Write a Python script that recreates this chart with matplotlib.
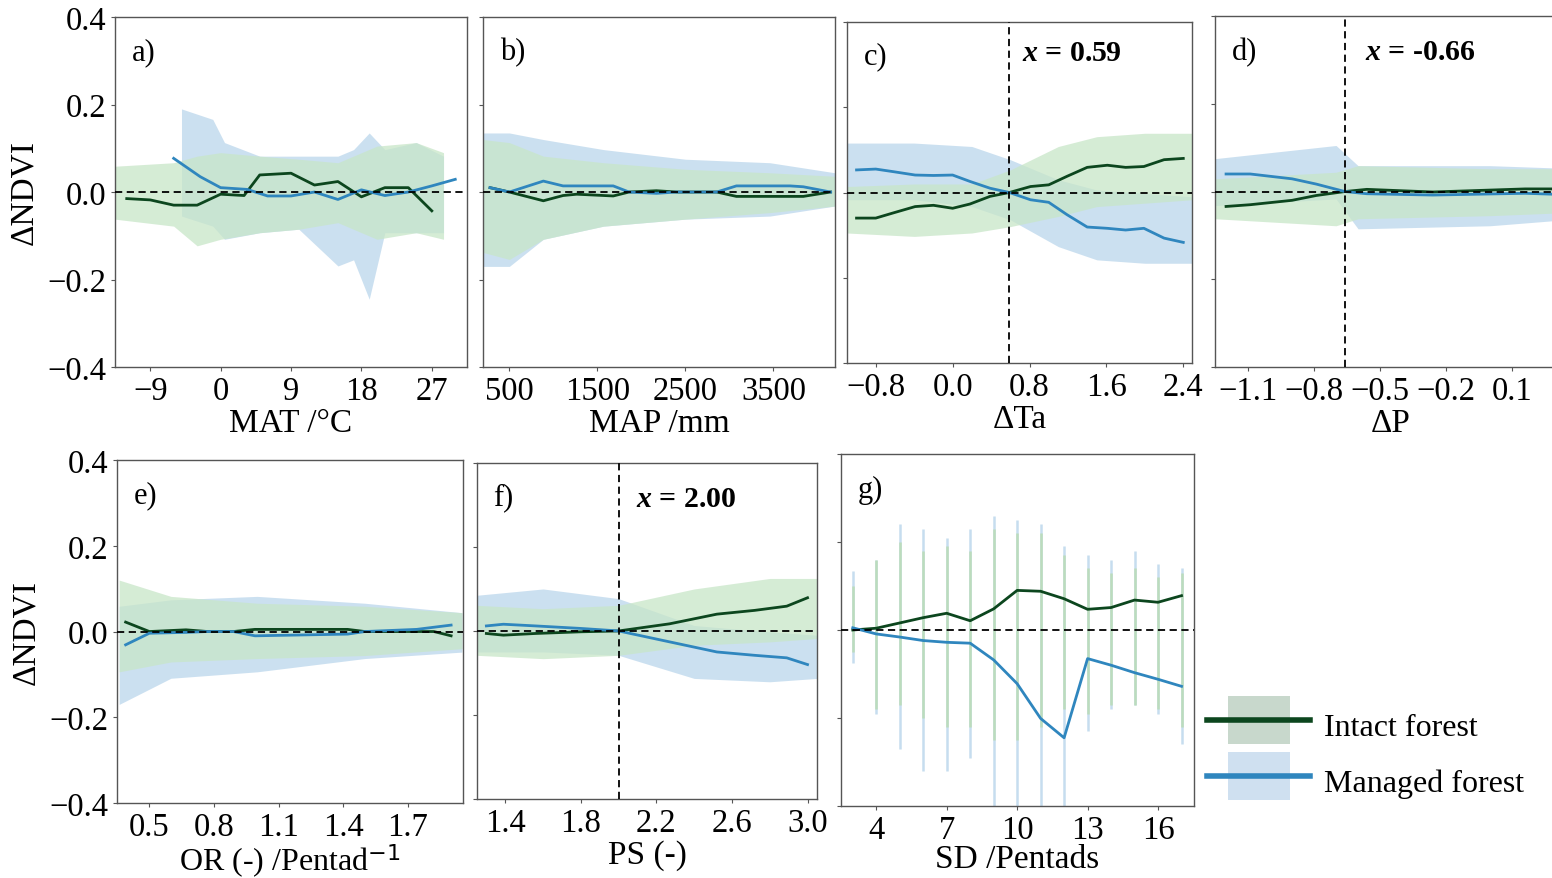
import numpy as np
import matplotlib.pyplot as plt
from matplotlib.lines import Line2D
from matplotlib.legend_handler import HandlerTuple

plt.rcParams['font.family'] = ['Liberation Serif', 'DejaVu Serif']
plt.rcParams['mathtext.fontset'] = 'custom'
plt.rcParams['mathtext.rm'] = 'DejaVu Sans'
plt.rcParams['mathtext.it'] = 'Liberation Serif:italic:bold'

# ---- a) MAT
a_int_x = [-12, -9, -6, -3, 0, 3, 5, 9, 12, 15, 18, 21, 24, 27]
a_int_y = [-0.015, -0.018, -0.030, -0.030, -0.005, -0.008, 0.039, 0.043, 0.016, 0.024, -0.011, 0.010, 0.010, -0.043]
a_man_x = [-6, -2.6, 0, 3.4, 6, 9, 12, 15, 18, 21, 24, 27, 30]
a_man_y = [0.077, 0.035, 0.010, 0.006, -0.009, -0.009, 0.0, -0.017, 0.005, -0.008, 0.0, 0.014, 0.029]
a_bx_int = [-13.5, -6, -3, 0, 5, 10, 15, 20, 25, 28.5]
a_int_hi = [0.059, 0.067, 0.082, 0.090, 0.082, 0.075, 0.067, 0.105, 0.113, 0.090]
a_int_lo = [-0.062, -0.078, -0.123, -0.108, -0.093, -0.085, -0.070, -0.108, -0.093, -0.108]
a_bx_man = [-5, -1, 0.5, 5, 10, 15, 17, 19, 21, 25, 28.5]
a_man_hi = [0.190, 0.166, 0.113, 0.082, 0.082, 0.082, 0.097, 0.135, 0.097, 0.113, 0.082]
a_man_lo = [-0.055, -0.078, -0.108, -0.093, -0.085, -0.169, -0.155, -0.245, -0.093, -0.093, -0.093]

# ---- b) MAP
b_x = [280, 500, 886, 1110, 1265, 1680, 1860, 2170, 2400, 2856, 3080, 3690, 3840, 4150]
b_int_y = [0.010, 0.0, -0.020, -0.008, -0.005, -0.009, 0.0, 0.003, 0.0, 0.0, -0.010, -0.010, -0.010, 0.0]
b_man_y = [0.010, 0.0, 0.025, 0.014, 0.014, 0.014, 0.0, -0.003, 0.0, 0.0, 0.014, 0.014, 0.012, 0.0]
b_bx = [200, 500, 886, 1570, 2500, 3460, 4200]
b_int_hi = [0.120, 0.113, 0.082, 0.067, 0.052, 0.044, 0.036]
b_int_lo = [-0.138, -0.154, -0.108, -0.078, -0.062, -0.047, -0.032]
b_man_hi = [0.135, 0.135, 0.120, 0.097, 0.075, 0.067, 0.044]
b_man_lo = [-0.170, -0.170, -0.108, -0.078, -0.062, -0.055, -0.032]

# ---- c) dTa
c_x = [-1.0, -0.8, -0.62, -0.39, -0.2, 0.0, 0.18, 0.39, 0.59, 0.81, 1.0, 1.19, 1.4, 1.61, 1.8, 1.99, 2.2, 2.4]
c_int_y = [-0.060, -0.060, -0.048, -0.033, -0.030, -0.037, -0.027, -0.009, 0.0, 0.014, 0.018, 0.038, 0.059, 0.064, 0.059, 0.061, 0.077, 0.080]
c_man_y = [0.053, 0.055, 0.049, 0.041, 0.040, 0.041, 0.026, 0.010, 0.0, -0.017, -0.023, -0.052, -0.081, -0.084, -0.088, -0.084, -0.107, -0.117]
c_bx = [-1.1, -0.4, 0.2, 0.6, 1.1, 1.5, 2.0, 2.49]
c_int_hi = [0.014, 0.020, 0.020, 0.053, 0.108, 0.131, 0.139, 0.139]
c_int_lo = [-0.095, -0.103, -0.095, -0.080, -0.056, -0.033, -0.025, -0.017]
c_man_hi = [0.116, 0.116, 0.108, 0.077, 0.030, 0.006, -0.002, -0.010]
c_man_lo = [-0.017, -0.017, -0.033, -0.064, -0.127, -0.158, -0.166, -0.166]
c_thr = 0.59

# ---- d) dP
d_x = [-1.2, -1.09, -0.9, -0.79, -0.66, -0.56, -0.26, 0.16, 0.4]
d_int_y = [-0.034, -0.030, -0.020, -0.009, 0.0, 0.005, -0.001, 0.006, 0.006]
d_man_y = [0.040, 0.040, 0.029, 0.017, 0.0, -0.005, -0.008, -0.004, -0.008]
d_bx = [-1.25, -0.7, -0.6, 0.0, 0.4]
d_int_hi = [0.029, 0.044, 0.059, 0.052, 0.052]
d_int_lo = [-0.062, -0.078, -0.062, -0.055, -0.047]
d_man_hi = [0.075, 0.105, 0.059, 0.059, 0.052]
d_man_lo = [-0.032, -0.017, -0.085, -0.078, -0.062]
d_thr = -0.66

# ---- e) OR
e_x = [0.39, 0.50, 0.67, 0.77, 0.89, 0.99, 1.42, 1.50, 1.74, 1.82, 1.90]
e_int_y = [0.022, 0.0, 0.004, 0.0, 0.0, 0.005, 0.005, 0.0, 0.0, 0.0, -0.010]
e_man_y = [-0.031, -0.004, -0.002, 0.0, 0.0, -0.010, -0.006, 0.0, 0.005, 0.010, 0.015]
e_bx = [0.36, 0.6, 1.0, 1.5, 1.95]
e_int_hi = [0.120, 0.082, 0.066, 0.059, 0.044]
e_int_lo = [-0.094, -0.071, -0.063, -0.056, -0.040]
e_man_hi = [0.059, 0.074, 0.082, 0.066, 0.044]
e_man_lo = [-0.170, -0.109, -0.094, -0.063, -0.048]

# ---- f) PS
f_x = [1.30, 1.39, 1.56, 1.80, 2.00, 2.27, 2.52, 2.72, 2.89, 3.00]
f_int_y = [-0.006, -0.010, -0.006, -0.002, 0.0, 0.017, 0.040, 0.049, 0.059, 0.079]
f_man_y = [0.012, 0.016, 0.012, 0.006, 0.0, -0.026, -0.050, -0.058, -0.064, -0.080]
f_bx = [1.25, 1.6, 2.0, 2.4, 2.8, 3.05]
f_int_hi = [0.061, 0.053, 0.061, 0.100, 0.125, 0.125]
f_int_lo = [-0.058, -0.066, -0.058, -0.034, -0.026, -0.018]
f_man_hi = [0.085, 0.100, 0.077, 0.013, -0.002, -0.010]
f_man_lo = [-0.050, -0.050, -0.058, -0.113, -0.121, -0.113]
f_thr = 2.00

# ---- g) SD
g_x = [3, 4, 5, 6, 7, 8, 9, 10, 11, 12, 13, 14, 15, 16, 17]
g_int_y = [0.0, 0.004, 0.016, 0.028, 0.038, 0.021, 0.048, 0.090, 0.088, 0.071, 0.047, 0.051, 0.068, 0.063, 0.078]
g_man_y = [0.005, -0.009, -0.016, -0.024, -0.028, -0.030, -0.068, -0.122, -0.201, -0.245, -0.065, -0.080, -0.097, -0.112, -0.128]
g_int_top = [0.100, 0.160, 0.200, 0.180, 0.190, 0.180, 0.230, 0.220, 0.220, 0.170, 0.140, 0.130, 0.140, 0.120, 0.130]
g_int_bot = [-0.050, -0.180, -0.170, -0.200, -0.220, -0.220, -0.250, -0.250, -0.220, -0.180, -0.190, -0.170, -0.170, -0.180, -0.220]
g_man_top = [0.135, 0.160, 0.240, 0.230, 0.210, 0.230, 0.260, 0.250, 0.240, 0.190, 0.170, 0.160, 0.180, 0.150, 0.140]
g_man_bot = [-0.076, -0.190, -0.270, -0.320, -0.320, -0.290, -0.400, -0.400, -0.400, -0.400, -0.230, -0.180, -0.170, -0.190, -0.260]

green_line = '#0c461e'
blue_line = '#2f86be'
green_fill = '#c8e6c8'
blue_fill = '#c6ddef'

FS = 23.5

fig = plt.figure(figsize=(15.52, 8.79), dpi=100)

pos = {
    'a': [0.0741, 0.5813, 0.2268, 0.3982],
    'b': [0.3112, 0.5813, 0.2268, 0.3982],
    'c': [0.5457, 0.5859, 0.2223, 0.3879],
    'd': [0.7829, 0.5813, 0.2268, 0.3993],
    'e': [0.0754, 0.0853, 0.2229, 0.3902],
    'f': [0.3073, 0.0899, 0.2191, 0.3823],
    'g': [0.5419, 0.0819, 0.2274, 0.4005],
}


def setup(ax, label, xlabel, xlim, xticks, ylab=False, xpad=1, xfs=24):
    ax.set_xlim(*xlim)
    ax.set_ylim(-0.4, 0.4)
    ax.set_xticks(xticks)
    ax.set_yticks([-0.4, -0.2, 0.0, 0.2, 0.4])
    ax.tick_params(direction='out', length=3, width=0.8, labelsize=FS, color='#555555', pad=3)
    if ylab:
        ax.set_ylabel('ΔNDVI', fontsize=24, labelpad=6)
    else:
        ax.set_yticklabels([])
    ax.set_xlabel(xlabel, fontsize=xfs, labelpad=xpad)
    for s in ax.spines.values():
        s.set_color('#555555')
        s.set_linewidth(1.0)
    ax.axhline(0, color='black', lw=1.3, ls=(0, (4, 2.5)), zorder=3)
    ax.text(0.048, 0.90, label, transform=ax.transAxes, fontsize=22, va='center')


def thr_line(ax, x, xfrac, yfrac):
    ax.axvline(x, color='black', lw=1.3, ls=(0, (4, 2.5)), zorder=3)
    ax.text(xfrac, yfrac, r'$x$' + ' = ' + '%.2f' % x,
            transform=ax.transAxes, fontsize=21.5, fontweight='bold', va='center')


# a
ax = fig.add_axes(pos['a'])
ax.fill_between(a_bx_man, a_man_lo, a_man_hi, color=blue_fill, lw=0, alpha=0.9)
ax.fill_between(a_bx_int, a_int_lo, a_int_hi, color=green_fill, lw=0, alpha=0.75)
ax.plot(a_int_x, a_int_y, color=green_line, lw=2)
ax.plot(a_man_x, a_man_y, color=blue_line, lw=2)
setup(ax, 'a)', 'MAT /°C', (-13.5, 31.5), [-9, 0, 9, 18, 27], ylab=True)

# b
ax = fig.add_axes(pos['b'])
ax.fill_between(b_bx, b_man_lo, b_man_hi, color=blue_fill, lw=0, alpha=0.9)
ax.fill_between(b_bx, b_int_lo, b_int_hi, color=green_fill, lw=0, alpha=0.75)
ax.plot(b_x, b_int_y, color=green_line, lw=2)
ax.plot(b_x, b_man_y, color=blue_line, lw=2)
setup(ax, 'b)', 'MAP /mm', (200, 4200), [500, 1500, 2500, 3500])

# c
ax = fig.add_axes(pos['c'])
ax.fill_between(c_bx, c_man_lo, c_man_hi, color=blue_fill, lw=0, alpha=0.9)
ax.fill_between(c_bx, c_int_lo, c_int_hi, color=green_fill, lw=0, alpha=0.75)
ax.plot(c_x, c_int_y, color=green_line, lw=2)
ax.plot(c_x, c_man_y, color=blue_line, lw=2)
setup(ax, 'c)', 'ΔTa', (-1.1, 2.49), [-0.8, 0.0, 0.8, 1.6, 2.4])
thr_line(ax, c_thr, 0.507, 0.91)

# d
ax = fig.add_axes(pos['d'])
ax.fill_between(d_bx, d_man_lo, d_man_hi, color=blue_fill, lw=0, alpha=0.9)
ax.fill_between(d_bx, d_int_lo, d_int_hi, color=green_fill, lw=0, alpha=0.75)
ax.plot(d_x, d_int_y, color=green_line, lw=2)
ax.plot(d_x, d_man_y, color=blue_line, lw=2)
setup(ax, 'd)', 'ΔP', (-1.25, 0.35), [-1.1, -0.8, -0.5, -0.2, 0.1])
thr_line(ax, d_thr, 0.426, 0.90)

# e
ax = fig.add_axes(pos['e'])
ax.fill_between(e_bx, e_man_lo, e_man_hi, color=blue_fill, lw=0, alpha=0.9)
ax.fill_between(e_bx, e_int_lo, e_int_hi, color=green_fill, lw=0, alpha=0.75)
ax.plot(e_x, e_int_y, color=green_line, lw=2)
ax.plot(e_x, e_man_y, color=blue_line, lw=2)
setup(ax, 'e)', 'OR (-) /Pentad$^{-1}$', (0.35, 1.955), [0.5, 0.8, 1.1, 1.4, 1.7],
      ylab=True, xpad=0, xfs=23)

# f
ax = fig.add_axes(pos['f'])
ax.fill_between(f_bx, f_man_lo, f_man_hi, color=blue_fill, lw=0, alpha=0.9)
ax.fill_between(f_bx, f_int_lo, f_int_hi, color=green_fill, lw=0, alpha=0.75)
ax.plot(f_x, f_int_y, color=green_line, lw=2)
ax.plot(f_x, f_man_y, color=blue_line, lw=2)
setup(ax, 'f)', 'PS (-)', (1.25, 3.05), [1.4, 1.8, 2.2, 2.6, 3.0])
thr_line(ax, f_thr, 0.468, 0.893)

# g
ax = fig.add_axes(pos['g'])
ax.vlines(g_x, g_man_bot, g_man_top, color=blue_fill, lw=1.8)
ax.vlines(g_x, g_int_bot, g_int_top, color='#bcdcbc', lw=1.8)
ax.plot(g_x, g_int_y, color=green_line, lw=2)
ax.plot(g_x, g_man_y, color=blue_line, lw=2)
setup(ax, 'g)', 'SD /Pentads', (2.5, 17.53), [4, 7, 10, 13, 16], xpad=-1)

# legend
box = [(-1, -0.76), (1, -0.76), (1, 0.76), (-1, 0.76), (-1, -0.76)]
h_int = (Line2D([], [], ls='none', marker=box, markersize=45, markerfacecolor='#c8d8cc', markeredgewidth=0),
         Line2D([], [], color=green_line, lw=4))
h_man = (Line2D([], [], ls='none', marker=box, markersize=45, markerfacecolor='#cfe0f0', markeredgewidth=0),
         Line2D([], [], color=blue_line, lw=4))
fig.legend([h_int, h_man], ['Intact forest', 'Managed forest'],
           handler_map={tuple: HandlerTuple(ndivide=1, pad=0)},
           loc='center left', bbox_to_anchor=(0.778, 0.143), frameon=False,
           fontsize=23, handlelength=3.2, handleheight=1.5, handletextpad=0.45,
           labelspacing=0.55, borderpad=0, borderaxespad=0, numpoints=1)

fig.savefig('out.png', dpi=100)
